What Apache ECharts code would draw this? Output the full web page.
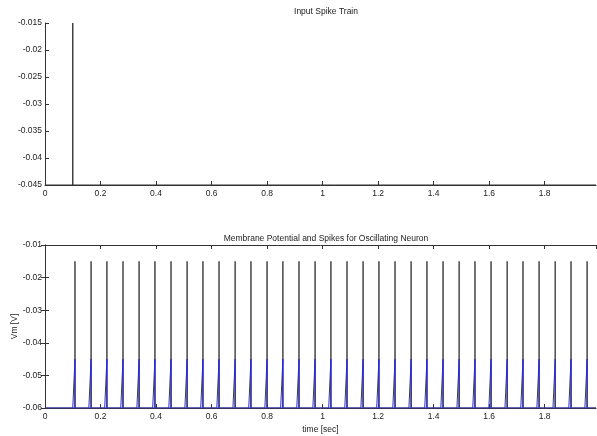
<!DOCTYPE html>
<html>
<head>
<meta charset="utf-8">
<script src="https://cdn.jsdelivr.net/npm/echarts@6/dist/echarts.min.js"></script>
<style>
html,body{margin:0;padding:0;background:#fff;}
#chart{width:597px;height:436px;}
</style>
</head>
<body>
<div id="chart"></div>
<script>
// ---- data ----
var inputSpikeTimes = [0.1];
var inputBase = -0.045;
var inputPeak = -0.015;

var outputSpikeTimes = [0.108, 0.166, 0.223, 0.281, 0.339, 0.396, 0.454, 0.512, 0.569, 0.627,
  0.685, 0.742, 0.800, 0.857, 0.915, 0.973, 1.030, 1.088, 1.146, 1.203, 1.261, 1.319, 1.376,
  1.434, 1.492, 1.549, 1.607, 1.665, 1.722, 1.780, 1.838, 1.895, 1.953];
var restPotential = -0.06;
var thresholdPotential = -0.045;
var spikePeak = -0.015;
var rampDuration = 0.008;
var tEnd = 1.985;

var topTitle = 'Input Spike Train';
var bottomTitle = 'Membrane Potential and Spikes for Oscillating Neuron';
var xLabel = 'time [sec]';
var yLabelBottom = 'Vm [V]';

// ---- build series data ----
var inputData = [[0, inputBase]];
inputSpikeTimes.forEach(function (t) {
  inputData.push([t, inputBase], [t, inputPeak], [t, inputBase]);
});
inputData.push([tEnd, inputBase]);

var spikeData = [[0, restPotential]];
var vmData = [[0, restPotential]];
outputSpikeTimes.forEach(function (t) {
  spikeData.push([t, restPotential], [t, spikePeak], [t, restPotential]);
  vmData.push([t - rampDuration, restPotential], [t, thresholdPotential], [t, restPotential]);
});
spikeData.push([tEnd, restPotential]);
vmData.push([tEnd, restPotential]);

var FONT = 'Liberation Sans, Arial, sans-serif';
var AX = '#333';
var TXT = '#222';
function fmt(v) { return String(parseFloat(v.toFixed(4))); }

var chart = echarts.init(document.getElementById('chart'), null, {renderer: 'canvas'});
var xCommon = {
  type: 'value', min: 0, max: tEnd, interval: 0.2,
  axisLine: {show: true, lineStyle: {color: AX, width: 1}},
  axisTick: {show: true, inside: true, length: 4, lineStyle: {color: AX}},
  splitLine: {show: false},
  axisLabel: {color: TXT, fontFamily: FONT, fontSize: 8.5, margin: 4, showMaxLabel: false, formatter: fmt}
};
var option = {
  animation: false,
  backgroundColor: '#fff',
  title: [
    {text: topTitle, left: 321, top: 2, textAlign: 'center',
     textStyle: {fontFamily: FONT, fontSize: 8.5, fontWeight: 'normal', color: TXT}},
    {text: bottomTitle, left: 321, top: 229, textAlign: 'center',
     textStyle: {fontFamily: FONT, fontSize: 8.5, fontWeight: 'normal', color: TXT}}
  ],
  grid: [
    {left: 45, top: 23, width: 551, height: 162, containLabel: false, outerBoundsMode: 'none'},
    {left: 45, top: 245, width: 551, height: 163, containLabel: false, outerBoundsMode: 'none'}
  ],
  xAxis: [
    Object.assign({}, xCommon, {gridIndex: 0, position: 'bottom'}),
    Object.assign({}, xCommon, {gridIndex: 1, position: 'bottom',
      name: xLabel, nameLocation: 'middle', nameGap: 17, nameMoveOverlap: false,
      nameTextStyle: {color: TXT, fontFamily: FONT, fontSize: 8.5}}),
    Object.assign({}, xCommon, {gridIndex: 1, position: 'top', axisLabel: {show: false}})
  ],
  yAxis: [
    {type: 'value', gridIndex: 0, min: -0.045, max: -0.015, interval: 0.005,
     axisLine: {show: true, lineStyle: {color: AX}},
     axisTick: {show: true, inside: true, length: 4, lineStyle: {color: AX}},
     splitLine: {show: false},
     axisLabel: {color: TXT, fontFamily: FONT, fontSize: 8.5, margin: 3, formatter: fmt}},
    {type: 'value', gridIndex: 1, min: -0.06, max: -0.01, interval: 0.01,
     name: yLabelBottom, nameLocation: 'middle', nameGap: 26, nameMoveOverlap: false,
     nameTextStyle: {color: TXT, fontFamily: FONT, fontSize: 8.5},
     axisLine: {show: true, lineStyle: {color: AX}},
     axisTick: {show: true, inside: true, length: 4, lineStyle: {color: AX}},
     splitLine: {show: false},
     axisLabel: {color: TXT, fontFamily: FONT, fontSize: 8.5, margin: 3, formatter: fmt}},
    {type: 'value', gridIndex: 1, min: -0.06, max: -0.01, interval: 0.01, position: 'right',
     axisLine: {show: true, lineStyle: {color: AX}},
     axisTick: {show: true, inside: true, length: 4, lineStyle: {color: AX}},
     splitLine: {show: false},
     axisLabel: {show: false}}
  ],
  series: [
    {type: 'line', xAxisIndex: 0, yAxisIndex: 0, data: inputData, showSymbol: false,
     lineStyle: {color: '#333', width: 1}, z: 3},
    {type: 'line', xAxisIndex: 1, yAxisIndex: 1, data: spikeData, showSymbol: false,
     lineStyle: {color: '#444', width: 1}, z: 3},
    {type: 'line', xAxisIndex: 1, yAxisIndex: 1, data: vmData, showSymbol: false,
     lineStyle: {color: '#2a2ad0', width: 1}, z: 4}
  ]
};
chart.setOption(option);
</script>
</body>
</html>
